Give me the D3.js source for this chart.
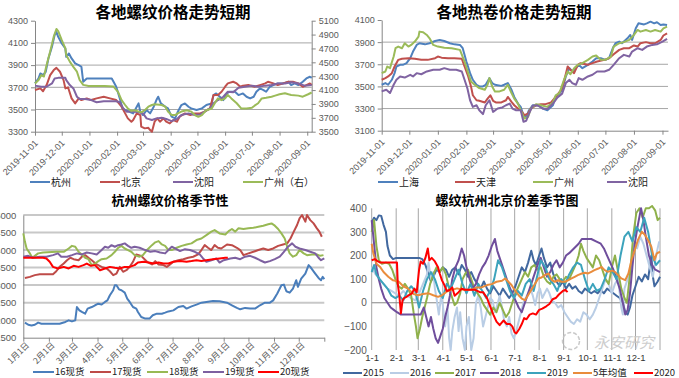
<!DOCTYPE html>
<html><head><meta charset="utf-8">
<script src="https://cdn.jsdelivr.net/npm/d3@7"></script>
<style>
body{margin:0;background:#fff}
svg{display:block}
text{font-family:"Liberation Sans","Noto Sans CJK SC",sans-serif}
</style></head><body>
<svg id="c" width="679" height="378"></svg>
<script>
// ---------- Panel 1: 各地螺纹价格走势短期 (day offset from 2019-11-01) ----------
const p1Title = "各地螺纹价格走势短期";
const p1Names = ["杭州", "北京", "沈阳", "广州（右）"];
const p1LeftTicks = [3300, 3500, 3700, 3900, 4100, 4300];
const p1RightTicks = [3500, 3700, 3900, 4100, 4300, 4500, 4700, 4900, 5100];
const rebarHangzhou = [[0,3735],[4,3780],[6,3825],[9,3810],[12,3840],[15,3960],[19,4065],[22,4170],[24,4200],[26,4155],[30,4095],[34,4050],[35,3975],[38,4005],[41,3960],[45,3915],[49,3900],[52,3885],[54,3750],[58,3780],[86,3780],[88,3750],[91,3705],[95,3600],[98,3510],[101,3495],[106,3480],[110,3465],[114,3525],[116,3555],[118,3480],[121,3450],[125,3495],[129,3465],[133,3525],[136,3585],[138,3615],[141,3555],[146,3525],[149,3510],[153,3435],[157,3420],[160,3480],[164,3540],[168,3555],[172,3525],[175,3510],[181,3495],[187,3510],[192,3540],[198,3555],[200,3630],[203,3645],[207,3615],[211,3585],[215,3645],[218,3660],[224,3660],[228,3630],[233,3645],[237,3615],[241,3600],[245,3615],[248,3660],[252,3690],[256,3675],[259,3660],[263,3705],[267,3720],[272,3735],[278,3735],[284,3750],[287,3720],[291,3735],[295,3720],[300,3750],[304,3780],[308,3795],[310,3785]];
const rebarBeijing = [[0,3675],[6,3690],[9,3665],[13,3720],[17,3810],[21,3855],[24,3875],[28,3840],[32,3765],[34,3690],[37,3700],[41,3600],[45,3555],[49,3600],[52,3585],[58,3600],[63,3585],[69,3600],[77,3615],[84,3600],[91,3585],[97,3525],[101,3465],[104,3420],[108,3390],[110,3405],[114,3465],[118,3450],[119,3345],[123,3330],[127,3335],[129,3315],[131,3300],[134,3390],[137,3420],[140,3390],[144,3420],[147,3390],[151,3375],[155,3405],[159,3390],[162,3435],[168,3465],[174,3450],[179,3465],[185,3465],[190,3480],[196,3510],[200,3630],[205,3630],[209,3660],[213,3705],[216,3735],[222,3750],[226,3735],[230,3705],[233,3715],[239,3720],[246,3705],[252,3720],[258,3735],[261,3750],[267,3735],[272,3720],[278,3735],[284,3750],[289,3750],[295,3735],[300,3705],[304,3720],[308,3735],[310,3720]];
const rebarShenyang = [[0,3715],[7,3705],[13,3705],[19,3735],[22,3780],[26,3785],[34,3785],[35,3765],[39,3720],[43,3690],[47,3615],[50,3595],[56,3595],[63,3585],[69,3565],[77,3575],[91,3575],[95,3565],[99,3510],[103,3480],[108,3485],[116,3475],[121,3465],[125,3420],[131,3405],[136,3420],[142,3425],[147,3415],[153,3395],[159,3415],[164,3450],[172,3465],[179,3450],[185,3455],[190,3480],[196,3510],[200,3555],[205,3585],[211,3615],[216,3660],[222,3655],[228,3695],[235,3705],[243,3715],[250,3705],[258,3715],[265,3720],[272,3735],[280,3735],[287,3745],[295,3735],[302,3715],[310,3720]];
const rebarGuangzhou = [[0,4195],[4,4245],[7,4315],[10,4295],[13,4460],[17,4655],[21,4870],[24,4980],[26,4950],[30,4820],[34,4700],[35,4605],[39,4510],[43,4435],[47,4365],[50,4245],[54,4175],[60,4160],[78,4160],[88,4150],[93,4075],[97,3955],[101,3885],[104,3835],[108,3800],[112,3810],[116,3790],[119,3780],[123,3810],[127,3860],[131,3885],[134,3895],[142,3885],[146,3860],[149,3790],[153,3740],[157,3740],[160,3765],[164,3790],[170,3810],[175,3790],[179,3740],[183,3715],[187,3740],[192,3810],[198,3835],[202,3925],[205,3980],[209,3955],[213,3980],[216,4030],[220,3980],[226,3910],[231,3835],[237,3835],[243,3845],[246,3875],[250,3910],[254,3980],[259,3990],[265,4005],[269,4020],[274,4040],[280,4055],[284,4040],[287,4030],[295,4020],[300,4005],[306,4040],[310,4065]];

// ---------- Panel 2: 各地热卷价格走势短期 ----------
const p2Title = "各地热卷价格走势短期";
const p2Names = ["上海", "天津", "广州", "沈阳"];
const p2Ticks = [3100, 3300, 3500, 3700, 3900, 4100];
const hrcShanghai = [[0,3515],[4,3530],[7,3515],[11,3560],[14,3620],[16,3680],[20,3695],[23,3695],[27,3710],[31,3755],[34,3815],[38,3875],[41,3890],[47,3880],[52,3890],[58,3910],[63,3920],[68,3910],[74,3890],[79,3880],[85,3875],[88,3845],[92,3725],[96,3620],[99,3560],[103,3515],[106,3500],[110,3500],[113,3515],[117,3575],[120,3530],[123,3515],[130,3505],[133,3515],[137,3530],[141,3470],[144,3405],[148,3345],[151,3315],[154,3240],[157,3225],[160,3285],[164,3330],[168,3330],[171,3325],[175,3300],[180,3285],[186,3330],[189,3405],[193,3435],[196,3470],[200,3590],[204,3665],[207,3635],[211,3665],[214,3695],[218,3665],[224,3695],[229,3725],[233,3755],[238,3755],[243,3740],[247,3755],[251,3845],[254,3890],[258,3905],[261,3890],[267,3935],[270,3965],[272,3920],[276,4025],[279,4070],[285,4060],[288,4070],[292,4085],[296,4070],[299,4080],[303,4055],[306,4060],[310,4055]];
const hrcTianjin = [[0,3560],[4,3575],[7,3590],[11,3620],[14,3680],[18,3740],[22,3750],[29,3755],[36,3750],[43,3740],[50,3740],[58,3755],[61,3770],[65,3760],[72,3755],[79,3755],[87,3750],[90,3680],[94,3590],[97,3500],[99,3420],[103,3375],[106,3370],[112,3355],[115,3390],[118,3420],[121,3370],[124,3355],[130,3355],[135,3375],[137,3405],[141,3360],[144,3330],[148,3300],[151,3285],[155,3240],[159,3255],[162,3300],[168,3330],[173,3340],[178,3340],[184,3355],[189,3405],[195,3470],[198,3545],[202,3680],[205,3650],[209,3620],[213,3695],[216,3710],[224,3695],[229,3710],[234,3725],[242,3740],[247,3755],[252,3790],[258,3830],[263,3845],[269,3845],[274,3870],[278,3860],[281,3890],[287,3900],[292,3890],[297,3890],[303,3920],[306,3960],[310,3980]];
const hrcGuangzhou = [[0,3620],[4,3635],[6,3680],[9,3665],[13,3770],[15,3845],[18,3860],[22,3845],[25,3890],[29,3860],[32,3875],[36,3905],[40,3950],[41,3995],[45,3990],[49,3965],[52,3935],[56,3875],[61,3860],[68,3850],[76,3845],[85,3830],[90,3725],[94,3620],[97,3545],[101,3515],[106,3485],[112,3470],[115,3515],[117,3575],[120,3500],[123,3455],[128,3455],[133,3470],[137,3515],[141,3440],[144,3390],[148,3345],[151,3285],[155,3210],[159,3225],[162,3300],[168,3340],[173,3330],[180,3315],[186,3355],[189,3420],[193,3440],[198,3560],[202,3635],[205,3610],[209,3665],[213,3695],[218,3710],[224,3740],[229,3770],[233,3780],[238,3740],[243,3740],[249,3770],[252,3860],[258,3890],[263,3900],[269,3920],[274,3965],[278,4010],[281,3995],[287,4010],[292,3995],[297,4010],[303,3995],[306,4025],[310,4040]];
const hrcShenyang = [[0,3455],[5,3470],[9,3440],[13,3515],[16,3560],[20,3590],[25,3580],[31,3605],[34,3590],[38,3620],[43,3610],[49,3635],[56,3650],[63,3650],[68,3665],[74,3650],[81,3650],[87,3635],[90,3560],[93,3485],[96,3375],[99,3315],[103,3330],[106,3285],[110,3250],[113,3330],[117,3375],[121,3270],[126,3300],[131,3310],[135,3330],[139,3345],[142,3300],[146,3285],[151,3285],[154,3180],[157,3190],[160,3255],[164,3325],[169,3330],[175,3300],[180,3295],[186,3345],[191,3400],[196,3435],[200,3530],[204,3560],[207,3530],[211,3515],[214,3575],[218,3560],[224,3590],[229,3605],[234,3635],[242,3635],[247,3650],[252,3695],[258,3755],[263,3785],[269,3770],[272,3815],[278,3845],[283,3830],[288,3860],[294,3875],[299,3880],[305,3905],[310,3930]];

// ---------- Panel 3: 杭州螺纹价格季节性 (day of year) ----------
const p3Title = "杭州螺纹价格季节性";
const p3Names = ["16现货", "17现货", "18现货", "19现货", "20现货"];
const p3Ticks = [1500, 2000, 2500, 3000, 3500, 4000, 4500, 5000];
const monthStarts = [0, 31, 59, 90, 120, 151, 181, 212, 243, 273, 304, 334];
const p3MonthLabels = ["1月1日","2月1日","3月1日","4月1日","5月1日","6月1日","7月1日","8月1日","9月1日","10月1日","11月1日","12月1日"];
const spot16 = [[2,1930],[6,1870],[10,1850],[14,1870],[18,1930],[22,1900],[36,1900],[44,1900],[51,1950],[55,1995],[59,1965],[63,1995],[65,2375],[68,2280],[71,2235],[75,2185],[78,2330],[83,2375],[87,2425],[91,2470],[95,2445],[99,2520],[102,2565],[105,2710],[109,2855],[111,2995],[113,2995],[116,2880],[119,2855],[123,2785],[126,2615],[129,2520],[133,2375],[137,2330],[139,2235],[143,2090],[148,2045],[153,2045],[157,2140],[162,2185],[168,2185],[172,2215],[176,2250],[182,2280],[188,2375],[194,2405],[198,2330],[204,2395],[210,2445],[216,2500],[222,2520],[230,2550],[238,2540],[247,2500],[253,2425],[259,2350],[263,2310],[269,2350],[275,2330],[281,2330],[287,2425],[293,2500],[299,2500],[303,2565],[308,2760],[313,2995],[316,3015],[319,2825],[323,2785],[327,2900],[331,3140],[333,2950],[337,3185],[342,3330],[346,3570],[348,3520],[354,3330],[358,3205],[361,3140],[363,3235],[365,3170]];
const spot17 = [[2,3205],[8,3235],[14,3285],[20,3310],[36,3310],[40,3395],[44,3520],[49,3615],[53,3710],[57,3780],[61,3740],[67,3710],[71,3810],[75,3855],[79,3780],[83,3710],[89,3590],[95,3520],[101,3475],[105,3395],[109,3285],[113,3330],[117,3520],[121,3380],[125,3425],[129,3520],[133,3665],[137,3875],[143,3835],[150,3665],[156,3590],[160,3685],[164,3590],[170,3570],[174,3520],[178,3590],[182,3665],[188,3710],[194,3740],[200,3780],[206,3810],[212,3875],[216,4000],[220,4140],[224,4065],[228,4000],[232,4140],[236,4065],[240,4045],[247,4160],[253,4140],[259,4065],[263,4000],[267,3855],[273,3905],[279,3950],[285,4000],[291,4045],[297,4000],[303,4045],[309,4120],[315,4160],[320,4190],[324,4330],[328,4525],[332,4715],[335,4905],[338,5000],[342,4810],[344,5000],[348,4855],[352,4760],[356,4620],[359,4525],[362,4380]];
const spot18 = [[0,4475],[2,4235],[4,4045],[8,3905],[11,3780],[14,3835],[18,3905],[24,3930],[40,3950],[49,3950],[55,4045],[59,4120],[63,4095],[67,3950],[71,3875],[75,3780],[79,3740],[83,3570],[87,3615],[91,3685],[95,3740],[101,3760],[107,3855],[111,3950],[115,4065],[119,4120],[123,4045],[127,4000],[131,3950],[135,3855],[141,3810],[145,3855],[150,4000],[156,4140],[160,4220],[164,4255],[168,4160],[172,4120],[176,4000],[180,4000],[186,4065],[192,4120],[198,4160],[204,4190],[210,4285],[216,4330],[222,4425],[228,4525],[232,4570],[238,4475],[245,4445],[249,4540],[253,4600],[257,4525],[261,4620],[267,4600],[273,4620],[279,4635],[285,4665],[291,4695],[297,4735],[301,4760],[305,4695],[309,4600],[313,4475],[317,4330],[320,4095],[323,3905],[327,3810],[331,3855],[335,4000],[340,3905],[344,3855],[350,3875],[356,3875],[360,3835],[364,3855]];
const spot19 = [[0,3810],[6,3835],[12,3780],[20,3810],[28,3810],[36,3855],[42,3905],[46,3810],[53,3810],[59,3855],[65,3905],[71,3875],[77,3930],[83,3905],[89,3875],[95,4000],[99,4095],[103,4065],[107,4140],[111,4095],[115,4140],[119,4160],[123,4190],[127,4120],[131,4065],[135,4095],[141,4065],[148,4000],[154,3950],[160,3970],[166,3930],[172,3905],[176,4000],[180,4095],[184,4045],[190,3970],[196,4025],[202,4000],[208,3950],[214,3875],[218,3760],[222,3665],[228,3710],[234,3760],[238,3645],[243,3710],[251,3760],[257,3780],[263,3740],[269,3810],[275,3835],[281,3780],[287,3710],[293,3645],[299,3685],[305,3740],[311,3810],[316,3950],[321,4095],[326,4190],[330,4095],[335,4045],[342,4000],[348,3950],[354,3905],[358,3780],[361,3710],[365,3760]];
const spot20 = [[0,3780],[12,3780],[24,3780],[28,3760],[32,3665],[36,3520],[42,3475],[49,3520],[55,3475],[61,3550],[67,3520],[73,3570],[77,3615],[82,3550],[87,3570],[93,3425],[99,3475],[105,3520],[111,3495],[117,3475],[123,3520],[129,3520],[135,3570],[139,3645],[146,3665],[152,3645],[158,3615],[164,3645],[170,3615],[176,3615],[182,3665],[190,3685],[198,3665],[204,3685],[210,3710],[216,3685],[222,3710],[230,3740],[238,3760],[245,3780],[248,3780]];

// ---------- Panel 4: 螺纹杭州北京价差季节图 (day of year) ----------
const p4Title = "螺纹杭州北京价差季节图";
const p4Names = ["2015", "2016", "2017", "2018", "2019", "5年均值", "2020"];
const p4Ticks = [-200, -100, 0, 100, 200, 300, 400];
const p4MonthLabels = ["1-1","2-1","3-1","4-1","5-1","6-1","7-1","8-1","9-1","10-1","11-1","12-1"];
const spread2015 = [[0,340],[3,360],[6,350],[9,370],[12,368],[15,330],[18,300],[20,240],[23,200],[27,185],[31,190],[45,190],[60,190],[64,185],[68,160],[72,120],[75,90],[78,110],[82,140],[86,130],[90,150],[94,140],[98,110],[102,140],[106,150],[110,120],[114,160],[118,140],[122,110],[126,130],[130,100],[134,80],[138,60],[142,90],[146,60],[150,40],[154,70],[158,50],[162,30],[166,60],[170,40],[174,20],[178,40],[182,70],[186,110],[190,150],[194,130],[198,170],[202,220],[205,180],[208,160],[212,200],[215,230],[218,190],[222,150],[226,170],[230,120],[234,90],[238,70],[242,90],[246,60],[250,80],[254,60],[258,70],[262,50],[266,40],[270,60],[274,50],[278,40],[282,50],[286,40],[290,55],[294,40],[298,60],[302,50],[306,40],[310,30],[314,20],[318,0],[321,-40],[324,-50],[327,-20],[330,30],[334,70],[338,110],[342,90],[346,120],[350,100],[354,200],[356,110],[358,70],[362,90],[365,110]];
const spread2016 = [[0,150],[5,120],[10,100],[15,80],[20,60],[25,50],[30,40],[35,30],[40,50],[45,30],[50,20],[55,10],[60,40],[65,80],[70,120],[72,170],[75,100],[78,130],[80,60],[82,20],[85,-50],[88,30],[90,-10],[93,-100],[96,-20],[98,-150],[100,-200],[102,-120],[105,-60],[108,-20],[110,-120],[112,-40],[115,-150],[118,-200],[120,-100],[123,-60],[126,-200],[129,-150],[132,0],[135,30],[138,-20],[141,-100],[144,-60],[147,-20],[150,20],[153,10],[156,-40],[159,-10],[162,30],[165,-20],[168,-80],[171,-100],[174,-60],[177,-130],[180,-150],[183,-120],[186,-80],[189,-40],[192,0],[195,20],[198,40],[201,60],[204,30],[207,-10],[210,40],[213,60],[216,20],[219,40],[222,60],[225,40],[228,10],[232,0],[236,-20],[240,-10],[244,-40],[248,-60],[252,-80],[256,-90],[260,-70],[264,-80],[268,-40],[272,-50],[276,-70],[280,-50],[284,-20],[288,20],[292,60],[296,100],[300,80],[304,40],[308,80],[312,100],[316,-20],[318,-50],[320,60],[324,100],[328,150],[332,250],[336,230],[340,280],[344,250],[348,200],[352,150],[356,110],[360,200],[364,260]];
const spread2017 = [[0,300],[3,350],[6,240],[9,180],[13,165],[18,170],[22,165],[26,140],[30,100],[34,70],[38,60],[42,80],[46,60],[50,30],[53,-40],[56,-100],[58,-150],[61,-110],[64,-60],[67,-20],[70,20],[74,80],[78,120],[82,150],[86,130],[90,150],[94,120],[98,60],[102,20],[105,-10],[108,0],[112,40],[115,100],[118,120],[122,140],[126,100],[130,60],[134,40],[138,20],[142,-10],[146,-30],[150,-50],[154,-20],[158,-40],[162,0],[166,-30],[170,-60],[174,-40],[178,0],[182,40],[186,70],[190,100],[194,130],[198,110],[202,150],[206,160],[210,140],[214,150],[218,110],[222,90],[226,80],[230,110],[234,120],[238,100],[242,90],[246,110],[250,100],[254,130],[258,160],[262,200],[265,250],[268,220],[272,190],[276,170],[280,150],[284,200],[288,180],[292,140],[296,100],[300,80],[304,150],[308,200],[312,130],[316,60],[320,20],[323,0],[327,120],[331,280],[335,380],[339,400],[343,360],[347,400],[351,400],[355,410],[359,390],[362,350],[365,360]];
const spread2018 = [[0,350],[3,250],[6,150],[9,100],[12,60],[16,20],[20,0],[24,-20],[28,-30],[32,-40],[37,-50],[45,-50],[55,-50],[62,-50],[66,-20],[69,-60],[72,-100],[75,-60],[78,-110],[81,-150],[84,-170],[87,-140],[90,-110],[93,-60],[96,-20],[99,30],[102,100],[106,150],[110,180],[114,230],[117,200],[120,150],[124,100],[128,60],[132,80],[136,120],[140,150],[144,170],[148,200],[152,240],[156,270],[159,220],[162,190],[166,150],[170,110],[174,70],[178,40],[182,10],[186,-20],[190,-40],[194,0],[198,40],[202,80],[206,120],[210,160],[214,190],[218,150],[222,110],[226,130],[230,160],[234,180],[238,150],[242,170],[246,200],[250,210],[256,230],[262,250],[266,270],[272,270],[278,270],[284,260],[290,250],[294,230],[298,200],[302,170],[306,140],[310,100],[314,60],[318,0],[321,-50],[324,-30],[327,40],[330,150],[333,250],[337,330],[341,400],[344,350],[347,280],[351,200],[355,160],[359,140],[365,130]];
const spread2019 = [[0,130],[3,160],[6,120],[10,100],[15,80],[20,60],[25,30],[30,20],[35,30],[40,10],[45,50],[50,70],[55,50],[60,-20],[65,50],[70,100],[75,130],[80,100],[85,50],[90,20],[95,80],[100,60],[105,100],[110,140],[115,80],[120,40],[125,80],[130,30],[135,80],[140,50],[145,20],[150,50],[155,100],[160,180],[165,150],[170,100],[175,50],[180,20],[185,50],[190,30],[195,80],[200,100],[205,50],[210,120],[214,180],[220,150],[225,100],[230,80],[235,50],[240,100],[245,80],[250,120],[255,150],[260,170],[265,160],[270,100],[275,50],[280,80],[285,50],[290,60],[295,100],[300,150],[305,130],[310,100],[315,200],[320,280],[325,300],[330,260],[335,320],[340,300],[345,360],[350,300],[355,200],[360,160],[365,180]];
const spreadAvg5 = [[0,250],[2,210],[6,165],[11,150],[15,130],[21,110],[27,95],[34,90],[40,70],[46,60],[53,37],[59,32],[65,37],[72,40],[78,32],[84,25],[89,32],[95,47],[101,54],[108,61],[114,56],[120,54],[127,56],[133,65],[139,65],[146,75],[152,79],[158,89],[165,93],[169,103],[173,89],[177,75],[181,54],[186,32],[190,18],[194,11],[198,32],[202,54],[207,82],[211,103],[215,107],[219,117],[224,124],[228,96],[232,89],[236,96],[240,89],[245,89],[249,96],[253,103],[257,110],[261,117],[266,124],[270,127],[274,124],[278,131],[282,138],[287,145],[291,152],[295,138],[299,131],[304,136],[308,131],[312,117],[316,103],[321,96],[325,124],[329,181],[333,223],[337,265],[342,301],[346,287],[350,265],[354,237],[358,181],[361,209],[365,216]];
const spread2020 = [[0,180],[4,185],[8,175],[11,170],[32,170],[33,80],[35,30],[37,-45],[39,10],[41,20],[44,25],[46,30],[51,40],[54,60],[57,45],[60,140],[62,175],[65,165],[68,190],[71,230],[73,180],[76,190],[80,175],[84,150],[86,125],[89,95],[92,75],[95,50],[99,55],[102,65],[105,30],[110,45],[114,60],[118,55],[124,55],[131,55],[137,45],[141,45],[146,20],[150,-15],[154,-50],[158,-80],[162,-95],[167,-75],[171,-90],[175,-90],[178,-100],[181,-125],[183,-130],[187,-110],[190,-90],[193,-65],[196,-70],[200,-50],[204,-45],[208,-50],[212,-30],[216,-25],[221,-15],[225,-5],[229,15],[233,20],[237,35],[242,50],[245,55],[248,45]];

// ---------------------------------------------------------------------------
const svg = d3.select("#c");
const AX = "#868686", LAB = "#595959", GRID = "#a6a6a6";
const cjk = '"Noto Sans CJK SC",sans-serif';
const plain = d3.format("d");

function styleAxis(g, fs) {
  g.select(".domain").attr("stroke", AX);
  g.selectAll(".tick line").attr("stroke", AX);
  g.selectAll(".tick text").attr("fill", LAB).style("font-size", fs + "px");
}
function drawLines(g, series, x, y, width) {
  const line = d3.line().x(d => x(d[0])).y(d => y(d[1]));
  series.forEach(s => {
    g.append("path").datum(s.data).attr("d", line)
      .attr("fill", "none").attr("stroke", s.color).attr("stroke-width", width || 2)
      .attr("stroke-linejoin", "round");
  });
}
function legend(items, y, fs) {
  items.forEach(it => {
    svg.append("line").attr("x1", it.x).attr("x2", it.x + it.len).attr("y1", y).attr("y2", y)
      .attr("stroke", it.color).attr("stroke-width", 2);
    svg.append("text").attr("x", it.x + it.len + 1).attr("y", y + fs * 0.36)
      .style("font-size", fs + "px").style("font-family", cjk).attr("fill", "#222").text(it.name);
  });
}
function title(txt, x, y, fs) {
  svg.append("text").attr("x", x).attr("y", y).attr("text-anchor", "middle")
    .style("font-size", fs + "px").style("font-weight", "bold").style("font-family", cjk)
    .attr("fill", "#000").text(txt);
}

// ===== Panel 1 =====
(function () {
  const base = new Date(2019, 10, 1);
  const toDate = d => d3.timeDay.offset(base, d);
  const L = 35, R = 311.7, T = 20.7, B = 131.7;
  const x = d3.scaleTime().domain([base, toDate(310)]).range([L, R]);
  const yL = d3.scaleLinear().domain([3300, 4300]).range([B, T]);
  const yR = d3.scaleLinear().domain([3500, 5100]).range([B, T]);
  const g = svg.append("g");
  [3500, 3700, 3900, 4100].forEach(v => g.append("line").attr("x1", L).attr("x2", R)
    .attr("y1", yL(v)).attr("y2", yL(v)).attr("stroke", GRID));
  const months = d3.timeMonth.range(base, new Date(2020, 8, 2));
  const gx = g.append("g").attr("transform", `translate(0,${B})`)
    .call(d3.axisBottom(x).tickValues(months).tickSize(4).tickSizeOuter(0).tickFormat(d3.timeFormat("%Y-%m-%d")));
  styleAxis(gx, 9);
  gx.selectAll(".tick text").attr("y", 0).attr("dy", 0).attr("text-anchor", "end")
    .attr("transform", "translate(3,12) rotate(-45)");
  const gl = g.append("g").attr("transform", `translate(${L},0)`)
    .call(d3.axisLeft(yL).tickValues(p1LeftTicks).tickSize(4).tickSizeOuter(0).tickFormat(plain));
  styleAxis(gl, 9);
  const gr = g.append("g").attr("transform", `translate(${R},0)`)
    .call(d3.axisRight(yR).tickValues(p1RightTicks).tickSize(4).tickSizeOuter(0).tickFormat(plain));
  styleAxis(gr, 9);
  const xd = d => x(toDate(d));
  drawLines(g, [{ data: rebarHangzhou, color: "#4F81BD" }, { data: rebarBeijing, color: "#C0504D" },
    { data: rebarShenyang, color: "#8064A2" }], xd, yL);
  drawLines(g, [{ data: rebarGuangzhou, color: "#9BBB59" }], xd, yR);
  title(p1Title, 173, 18, 15.5);
  legend([{ x: 30, len: 20, color: "#4F81BD", name: p1Names[0] },
    { x: 100, len: 20, color: "#C0504D", name: p1Names[1] },
    { x: 173, len: 20, color: "#8064A2", name: p1Names[2] },
    { x: 243, len: 20, color: "#9BBB59", name: p1Names[3] }], 182, 10);
})();

// ===== Panel 2 =====
(function () {
  const base = new Date(2019, 10, 1);
  const toDate = d => d3.timeDay.offset(base, d);
  const L = 381.7, R = 668, T = 20, B = 130.7;
  const x = d3.scaleTime().domain([base, toDate(311)]).range([L, R]);
  const y = d3.scaleLinear().domain([3100, 4100]).range([B, T]);
  const g = svg.append("g");
  [3300, 3500, 3700, 3900].forEach(v => g.append("line").attr("x1", L).attr("x2", R)
    .attr("y1", y(v)).attr("y2", y(v)).attr("stroke", GRID));
  const months = d3.timeMonth.range(base, new Date(2020, 8, 2));
  const gx = g.append("g").attr("transform", `translate(0,${B})`)
    .call(d3.axisBottom(x).tickValues(months).tickSize(4).tickSizeOuter(0).tickFormat(d3.timeFormat("%Y-%m-%d")));
  styleAxis(gx, 9);
  gx.selectAll(".tick text").attr("y", 0).attr("dy", 0).attr("text-anchor", "end")
    .attr("transform", "translate(3,12) rotate(-45)");
  const gl = g.append("g").attr("transform", `translate(${L},0)`)
    .call(d3.axisLeft(y).tickValues(p2Ticks).tickSize(4).tickSizeOuter(0).tickFormat(plain));
  styleAxis(gl, 9);
  const xd = d => x(toDate(d));
  drawLines(g, [{ data: hrcShanghai, color: "#4F81BD" }, { data: hrcTianjin, color: "#C0504D" },
    { data: hrcGuangzhou, color: "#9BBB59" }, { data: hrcShenyang, color: "#8064A2" }], xd, y);
  title(p2Title, 514, 18, 15.5);
  legend([{ x: 378, len: 20, color: "#4F81BD", name: p2Names[0] },
    { x: 455, len: 20, color: "#C0504D", name: p2Names[1] },
    { x: 533, len: 20, color: "#9BBB59", name: p2Names[2] },
    { x: 607, len: 20, color: "#8064A2", name: p2Names[3] }], 182, 10);
})();

// ===== Panel 3 =====
(function () {
  const L = 23.3, R = 324.3, T = 215, B = 337.7;
  const x = d3.scaleLinear().domain([0, 365]).range([L, R]);
  const y = d3.scaleLinear().domain([1500, 5000]).range([B, T]);
  const g = svg.append("g");
  p3Ticks.slice(1).forEach(v => g.append("line").attr("x1", L).attr("x2", R)
    .attr("y1", y(v)).attr("y2", y(v)).attr("stroke", "#c8c8c8").attr("stroke-width", 2));
  const gx = g.append("g").attr("transform", `translate(0,${B})`)
    .call(d3.axisBottom(x).tickValues(monthStarts.concat([365])).tickSize(4).tickSizeOuter(0)
      .tickFormat((d, i) => p3MonthLabels[i] || ""));
  styleAxis(gx, 8.5);
  gx.selectAll(".tick text").attr("y", 0).attr("dy", 0).attr("text-anchor", "end")
    .style("font-family", cjk).attr("transform", "translate(6,8) rotate(-45)");
  const gl = g.append("g").attr("transform", `translate(${L},0)`)
    .call(d3.axisLeft(y).tickValues(p3Ticks).tickSize(0).tickSizeOuter(0).tickPadding(7).tickFormat(plain));
  styleAxis(gl, 9.5);
  drawLines(g, [{ data: spot16, color: "#4A7EBB" }, { data: spot17, color: "#BE4B48" },
    { data: spot18, color: "#98B954" }, { data: spot19, color: "#7D60A0" }, { data: spot20, color: "#FF0000" }], x, y);
  title(p3Title, 170, 205, 13);
  legend([{ x: 33, len: 21, color: "#4A7EBB", name: p3Names[0] },
    { x: 90, len: 21, color: "#BE4B48", name: p3Names[1] },
    { x: 147, len: 21, color: "#98B954", name: p3Names[2] },
    { x: 203, len: 21, color: "#7D60A0", name: p3Names[3] },
    { x: 258, len: 21, color: "#FF0000", name: p3Names[4] }], 372, 9.5);
})();

// ===== Panel 4 =====
(function () {
  const L = 371.7, R = 660, T = 208.3, B = 350;
  const x = d3.scaleLinear().domain([0, 365]).range([L, R]);
  const y = d3.scaleLinear().domain([-200, 400]).range([B, T]);
  const g = svg.append("g");
  monthStarts.concat([365]).forEach(d => g.append("line").attr("x1", x(d)).attr("x2", x(d))
    .attr("y1", T).attr("y2", B).attr("stroke", GRID));
  g.append("line").attr("x1", L).attr("x2", R).attr("y1", y(0)).attr("y2", y(0)).attr("stroke", AX);
  const gl = g.append("g").attr("transform", `translate(${L},0)`)
    .call(d3.axisLeft(y).tickValues(p4Ticks).tickSize(0).tickSizeOuter(0).tickPadding(5).tickFormat(plain));
  gl.select(".domain").remove();
  styleAxis(gl, 10);
  const gx = g.append("g").attr("transform", `translate(0,${B})`)
    .call(d3.axisBottom(x).tickValues(monthStarts).tickSize(0).tickSizeOuter(0).tickPadding(4)
      .tickFormat((d, i) => p4MonthLabels[i]));
  gx.select(".domain").remove();
  styleAxis(gx, 9.5);
  gx.selectAll(".tick text").attr("fill", "#333");
  // watermark
  const wm = svg.append("g").attr("opacity", 0.9);
  wm.append("circle").attr("cx", 571).attr("cy", 341).attr("r", 8.5).attr("fill", "none")
    .attr("stroke", "#c4c4c4").attr("stroke-width", 1.5).attr("stroke-dasharray", "4,2");
  wm.append("text").attr("x", 594).attr("y", 348).style("font-size", "15px").style("font-style", "italic")
    .style("font-family", cjk).attr("fill", "#c8c8c8").text("永安研究");
  drawLines(g, [{ data: spread2015, color: "#41689F" }, { data: spread2016, color: "#B9CDE5" },
    { data: spread2017, color: "#8FB14B" }, { data: spread2018, color: "#6F4E9C" },
    { data: spread2019, color: "#3CA3BC" }, { data: spreadAvg5, color: "#E98C3C" },
    { data: spread2020, color: "#FF0000" }], x, y);
  title(p4Title, 507, 205, 13);
  legend([{ x: 343, len: 19, color: "#41689F", name: p4Names[0] },
    { x: 390, len: 19, color: "#B9CDE5", name: p4Names[1] },
    { x: 435, len: 19, color: "#8FB14B", name: p4Names[2] },
    { x: 480, len: 19, color: "#6F4E9C", name: p4Names[3] },
    { x: 527, len: 19, color: "#3CA3BC", name: p4Names[4] },
    { x: 573, len: 19, color: "#E98C3C", name: p4Names[5] },
    { x: 634, len: 19, color: "#FF0000", name: p4Names[6] }], 373, 9.5);
})();
</script></body></html>
